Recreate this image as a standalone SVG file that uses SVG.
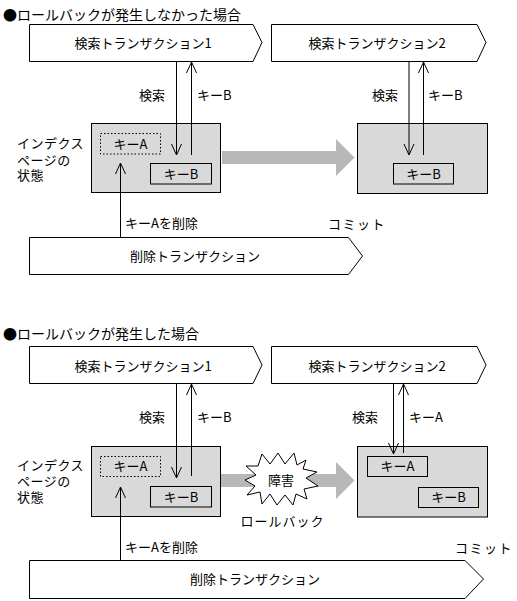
<svg xmlns="http://www.w3.org/2000/svg" width="517" height="601" viewBox="0 0 517 601">
<defs>
<style>
text{font-family:"Noto Sans CJK JP","Noto Sans",sans-serif;font-size:13px;fill:#000}
.title{font-size:14px}
.mid{text-anchor:middle}
.tx{fill:#fff;stroke:#000;stroke-width:1}
.idx{fill:#d9d9d9;stroke:#000;stroke-width:1}
.key{fill:none;stroke:#000;stroke-width:1}
.dot{fill:none;stroke:#000;stroke-width:1;stroke-dasharray:1.5 2}
.ln{stroke:#000;stroke-width:1;fill:none;marker-end:url(#ah)}
.big{fill:#b8b8b8;stroke:none}
</style>
<marker id="ah" viewBox="-12 -6 13 12" refX="0" refY="0" markerWidth="13" markerHeight="12" markerUnits="userSpaceOnUse" orient="auto">
<path d="M-11,-5 L0,0 L-11,5" fill="none" stroke="#000" stroke-width="1"/>
</marker>
</defs>

<!-- ===== Section 1 ===== -->
<text class="title" x="3" y="19.5">●ロールバックが発生しなかった場合</text>

<g id="s1-tx1">
<polygon class="tx" points="29.5,24.5 253,24.5 262,42.5 253,61.5 29.5,61.5"/>
<text class="mid" x="143" y="47.5">検索トランザクション1</text>
</g>
<g id="s1-tx2">
<polygon class="tx" points="271.5,24.5 477,24.5 486,42.5 477,61.5 271.5,61.5"/>
<text class="mid" x="377" y="47.5">検索トランザクション2</text>
</g>

<g id="s1-label">
<text x="17" y="148" letter-spacing="0.5"><tspan x="17" y="148">インデクス</tspan><tspan x="17" y="164.5">ページの</tspan><tspan x="17" y="180">状態</tspan></text>
</g>

<g id="s1-idx1">
<rect class="idx" x="91.5" y="123.5" width="129" height="69"/>
<rect class="dot" x="100.5" y="133.5" width="60" height="20.5"/>
<text class="mid" x="130.5" y="148.5">キーA</text>
<rect class="key" x="150.5" y="163.5" width="61" height="20.5"/>
<text class="mid" x="181" y="178.5">キーB</text>
</g>

<g id="s1-idx2">
<rect class="idx" x="357.5" y="123.5" width="130" height="70"/>
<rect class="key" x="393.5" y="163.5" width="60" height="20.5"/>
<text class="mid" x="423.5" y="178.5">キーB</text>
</g>

<g id="s1-big-arrow">
<polygon class="big" points="222,151 336,151 336,139 354.5,157.5 336,176 336,164 222,164"/>
</g>

<g id="s1-del">
<polygon class="tx" points="29.5,237.5 348.5,237.5 362.5,256 348.5,274.5 29.5,274.5"/>
<text class="mid" x="195" y="260.5">削除トランザクション</text>
</g>

<g id="s1-connectors">
<line class="ln" x1="176.5" y1="61.5" x2="176.5" y2="155"/>
<line class="ln" x1="191.5" y1="155" x2="191.5" y2="62"/>
<line class="ln" x1="409" y1="61.5" x2="409" y2="155"/>
<line class="ln" x1="423.5" y1="155" x2="423.5" y2="62"/>
<line class="ln" x1="120.5" y1="237.5" x2="120.5" y2="163"/>
</g>
<g id="s1-texts">
<text x="139" y="100">検索</text>
<text x="197" y="100">キーB</text>
<text x="372" y="100">検索</text>
<text x="428" y="100">キーB</text>
<text x="125" y="228">キーAを削除</text>
<text x="328" y="229" letter-spacing="1.5">コミット</text>
</g>

<!-- ===== Section 2 ===== -->
<text class="title" x="3" y="338.5">●ロールバックが発生した場合</text>

<g id="s2-tx1">
<polygon class="tx" points="29.5,346.5 253,346.5 262,365 253,383.5 29.5,383.5"/>
<text class="mid" x="143" y="370.5">検索トランザクション1</text>
</g>
<g id="s2-tx2">
<polygon class="tx" points="271.5,346.5 477,346.5 486,365 477,383.5 271.5,383.5"/>
<text class="mid" x="377" y="370.5">検索トランザクション2</text>
</g>

<g id="s2-label">
<text x="17" y="470" letter-spacing="0.5"><tspan x="17" y="470">インデクス</tspan><tspan x="17" y="486">ページの</tspan><tspan x="17" y="502">状態</tspan></text>
</g>

<g id="s2-idx1">
<rect class="idx" x="91.5" y="446.5" width="129" height="70"/>
<rect class="dot" x="100.5" y="456.5" width="60" height="20"/>
<text class="mid" x="130.5" y="471">キーA</text>
<rect class="key" x="150.5" y="486.5" width="61" height="20.5"/>
<text class="mid" x="181" y="501.5">キーB</text>
</g>

<g id="s2-idx2">
<rect class="idx" x="357.5" y="446.5" width="130" height="70.5"/>
<rect class="key" x="367.5" y="456.5" width="60" height="20"/>
<text class="mid" x="397.5" y="471">キーA</text>
<rect class="key" x="418.5" y="487.5" width="60" height="20"/>
<text class="mid" x="448.5" y="502">キーB</text>
</g>

<g id="s2-big-arrow">
<polygon class="big" points="221,474 336,474 336,462 354.5,480.5 336,499 336,487 221,487"/>
</g>

<g id="s2-fault">
<polygon fill="#fff" stroke="#000" stroke-width="1" points="258,466 262,454 270,464 278,453 285,464 294,453 297,465 306,460 303,469 317,472 306,478 318,486 304,489 307,499 296,494 293,505 285,495 277,505 270,494 262,504 260,492 247,495 255,486 245,480 256,475 246,466"/>
<text class="mid" x="281" y="485">障害</text>
</g>

<g id="s2-del">
<polygon class="tx" points="29.5,560.5 465,560.5 483.5,579 465,598.5 29.5,598.5"/>
<text class="mid" x="255" y="584">削除トランザクション</text>
</g>

<g id="s2-connectors">
<line class="ln" x1="176.5" y1="383.5" x2="176.5" y2="478"/>
<line class="ln" x1="191.5" y1="476" x2="191.5" y2="384"/>
<line class="ln" x1="393.5" y1="383.5" x2="393.5" y2="454"/>
<line class="ln" x1="403.5" y1="453" x2="403.5" y2="384"/>
<line class="ln" x1="120.5" y1="560.5" x2="120.5" y2="487"/>
</g>
<g id="s2-texts">
<text x="139" y="421.5">検索</text>
<text x="197" y="421.5">キーB</text>
<text x="352" y="421.5">検索</text>
<text x="409" y="421.5">キーA</text>
<text x="282.5" y="525.5" class="mid" letter-spacing="1">ロールバック</text>
<text x="125" y="552">キーAを削除</text>
<text x="455" y="553" letter-spacing="1.5">コミット</text>
</g>
</svg>
